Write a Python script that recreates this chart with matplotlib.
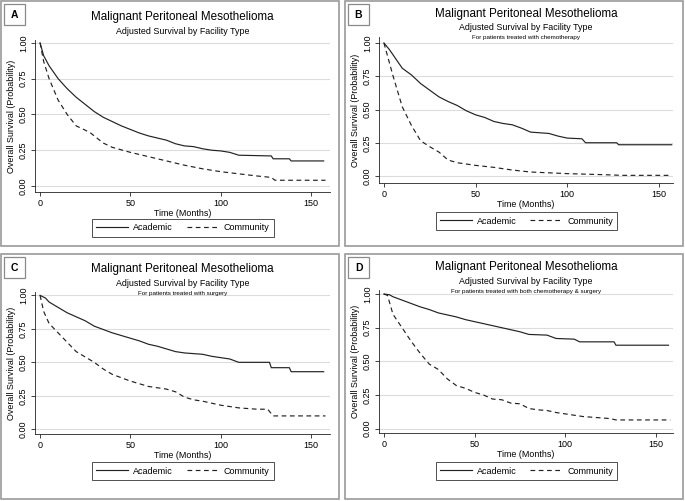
import matplotlib
matplotlib.use("Agg")
import matplotlib.pyplot as plt
from matplotlib.patches import Rectangle
from matplotlib.lines import Line2D

plt.rcParams['font.family'] = ['Liberation Sans', 'DejaVu Sans']

W, H = 685, 501

title = "Malignant Peritoneal Mesothelioma"
subtitle = "Adjusted Survival by Facility Type"
notes = ["", "For patients treated with chemotherapy",
         "For patients treated with surgery",
         "For patients treated with both chemotherapy & surgery"]
letters = ["A", "B", "C", "D"]
series_names = ["Academic", "Community"]
yticks = [0, 0.25, 0.5, 0.75, 1.0]
xticks = [0, 50, 100, 150]

# panel A - all patients
a_acad_t = [0, 2, 5, 10, 15, 20, 25, 30, 35, 40, 45, 50, 55, 60, 65, 70, 75, 80, 85, 90,
            95, 100, 105, 110, 128, 129, 138, 139, 157]
a_acad_s = [1.0, 0.91, 0.84, 0.75, 0.68, 0.62, 0.57, 0.52, 0.48, 0.45, 0.42, 0.395, 0.37, 0.35,
            0.335, 0.32, 0.295, 0.28, 0.275, 0.26, 0.25, 0.245, 0.235, 0.215, 0.21, 0.19, 0.19,
            0.175, 0.175]
a_comm_t = [0, 2, 5, 10, 15, 20, 25, 28, 30, 35, 40, 50, 60, 70, 80, 90, 100, 110, 120, 128,
            130, 158]
a_comm_s = [1.0, 0.87, 0.75, 0.60, 0.50, 0.42, 0.39, 0.37, 0.35, 0.30, 0.27, 0.235, 0.205,
            0.175, 0.145, 0.12, 0.10, 0.085, 0.07, 0.06, 0.04, 0.04]

# panel B - chemotherapy
b_acad_t = [0, 3, 5, 10, 15, 20, 25, 30, 35, 40, 45, 50, 55, 60, 65, 70, 75, 80, 90, 95,
            100, 108, 110, 127, 128, 157]
b_acad_s = [1.0, 0.95, 0.91, 0.81, 0.76, 0.695, 0.645, 0.595, 0.56, 0.53, 0.49, 0.46, 0.44,
            0.41, 0.395, 0.385, 0.36, 0.33, 0.32, 0.30, 0.285, 0.28, 0.25, 0.25, 0.235, 0.235]
b_comm_t = [0, 2, 5, 10, 15, 20, 25, 30, 35, 40, 50, 60, 70, 80, 100, 120, 130, 157]
b_comm_s = [1.0, 0.90, 0.75, 0.52, 0.38, 0.265, 0.22, 0.18, 0.12, 0.10, 0.08, 0.065, 0.045,
            0.03, 0.018, 0.01, 0.005, 0.005]

# panel C - surgery
c_acad_t = [0, 3, 5, 10, 15, 20, 25, 30, 35, 40, 45, 50, 55, 60, 65, 70, 75, 80, 90, 95,
            100, 105, 110, 127, 128, 138, 139, 157]
c_acad_s = [1.0, 0.98, 0.95, 0.91, 0.87, 0.84, 0.81, 0.77, 0.745, 0.72, 0.70, 0.68, 0.66,
            0.635, 0.62, 0.60, 0.58, 0.57, 0.56, 0.545, 0.535, 0.525, 0.50, 0.50, 0.46, 0.46,
            0.43, 0.43]
c_comm_t = [0, 2, 5, 10, 15, 20, 25, 30, 35, 40, 50, 60, 70, 75, 80, 85, 90, 100, 110, 120,
            126, 129, 158]
c_comm_s = [1.0, 0.88, 0.79, 0.72, 0.65, 0.58, 0.54, 0.50, 0.45, 0.41, 0.36, 0.32, 0.30, 0.28,
            0.24, 0.22, 0.21, 0.18, 0.16, 0.15, 0.15, 0.10, 0.10]

# panel D - chemotherapy & surgery
d_acad_t = [0, 3, 5, 10, 15, 20, 25, 30, 35, 40, 45, 50, 55, 60, 65, 70, 75, 80, 90, 95,
            105, 108, 127, 128, 157]
d_acad_s = [1.0, 0.995, 0.98, 0.955, 0.93, 0.905, 0.885, 0.86, 0.845, 0.83, 0.81, 0.795,
            0.78, 0.765, 0.75, 0.735, 0.72, 0.70, 0.695, 0.67, 0.665, 0.645, 0.645, 0.62, 0.62]
d_comm_t = [0, 2, 5, 10, 15, 20, 25, 30, 35, 40, 45, 50, 55, 60, 65, 70, 75, 80, 85, 90, 95,
            100, 105, 110, 115, 125, 128, 158]
d_comm_s = [1.0, 0.99, 0.85, 0.75, 0.65, 0.56, 0.48, 0.44, 0.37, 0.32, 0.30, 0.27, 0.25, 0.22,
            0.215, 0.19, 0.185, 0.15, 0.14, 0.135, 0.12, 0.11, 0.10, 0.09, 0.085, 0.075, 0.065,
            0.065]

curves = [(a_acad_t, a_acad_s, a_comm_t, a_comm_s),
          (b_acad_t, b_acad_s, b_comm_t, b_comm_s),
          (c_acad_t, c_acad_s, c_comm_t, c_comm_s),
          (d_acad_t, d_acad_s, d_comm_t, d_comm_s)]

# pixel layout: panel box, axes box (left, top, right, bottom), limits
panel_boxes = [(1, 1, 339, 246), (345, 1, 683, 246), (1, 254, 339, 499), (345, 254, 683, 499)]
axes_boxes = [(35, 40, 330, 192), (379, 37, 673, 183), (35, 292, 330, 434), (379, 290, 673, 433)]
xlims = [(-2.8, 160.5), (-2.7, 157.7), (-2.8, 160.5), (-2.7, 159.5)]
ylims = [(-0.042, 1.02), (-0.0525, 1.045), (-0.035, 1.025), (-0.032, 1.03)]
legend_y = [228, 221, 471, 471]


def fx(px):
    return px / W


def fy(py):
    return 1 - py / H


fig = plt.figure(figsize=(W / 100, H / 100), dpi=100)

for i in range(4):
    px0, py0, px1, py1 = panel_boxes[i]
    fig.patches.append(Rectangle((fx(px0), fy(py1)), fx(px1 - px0), (py1 - py0) / H,
                                 transform=fig.transFigure, fill=False,
                                 edgecolor='#9a9a9a', linewidth=1.2))
    # letter box
    fig.patches.append(Rectangle((fx(px0 + 3), fy(py0 + 24)), fx(21), 21 / H,
                                 transform=fig.transFigure, fill=False,
                                 edgecolor='#8a8a8a', linewidth=0.9))
    fig.text(fx(px0 + 13.5), fy(py0 + 14), letters[i], ha='center', va='center',
             fontsize=7.5, fontweight='bold')

    l, t, r, b = axes_boxes[i]
    ax = fig.add_axes([fx(l), fy(b), fx(r - l), (b - t) / H])
    at, as_, ct, cs = curves[i]
    ax.plot(at, as_, color='#222222', lw=0.85)
    ax.plot(ct, cs, color='#222222', lw=0.85, dashes=(4, 3))
    ax.set_xlim(*xlims[i])
    ax.set_ylim(*ylims[i])
    ax.set_yticks(yticks)
    ax.set_yticklabels(["%.2f" % v for v in yticks], rotation=90, va='center')
    ax.set_xticks(xticks)
    ax.tick_params(labelsize=6.5, length=3, width=0.6, pad=2, color='#222222')
    for s in ['top', 'right']:
        ax.spines[s].set_visible(False)
    for s in ['left', 'bottom']:
        ax.spines[s].set_linewidth(0.6)
        ax.spines[s].set_color('#222222')
    ax.grid(axis='y', color='#dcdcdc', linewidth=0.8)
    ax.set_axisbelow(True)
    ax.set_xlabel("Time (Months)", fontsize=6.4, labelpad=1)
    ax.set_ylabel("Overall Survival (Probability)", fontsize=6.4, labelpad=2)

    cx = (l + r) / 2
    fig.text(fx(cx), fy(t - 23), title, ha='center', va='center', fontsize=8.4)
    fig.text(fx(cx), fy(t - 9), subtitle, ha='center', va='center', fontsize=6.4)
    if notes[i]:
        fig.text(fx(cx), fy(t + 1), notes[i], ha='center', va='center', fontsize=4.5)

    handles = [Line2D([], [], color='#222222', lw=0.85),
               Line2D([], [], color='#222222', lw=0.85, dashes=(4, 3))]
    leg = fig.legend(handles, series_names, loc='center', ncol=2,
                     bbox_to_anchor=(fx(cx + 0.5), fy(legend_y[i])), fontsize=6.5,
                     handlelength=3.5, handletextpad=0.6, columnspacing=1.5,
                     borderpad=0.45, borderaxespad=0, fancybox=False, framealpha=1)
    leg.get_frame().set_edgecolor('#333333')
    leg.get_frame().set_linewidth(0.6)

fig.savefig("out.png", dpi=100)
